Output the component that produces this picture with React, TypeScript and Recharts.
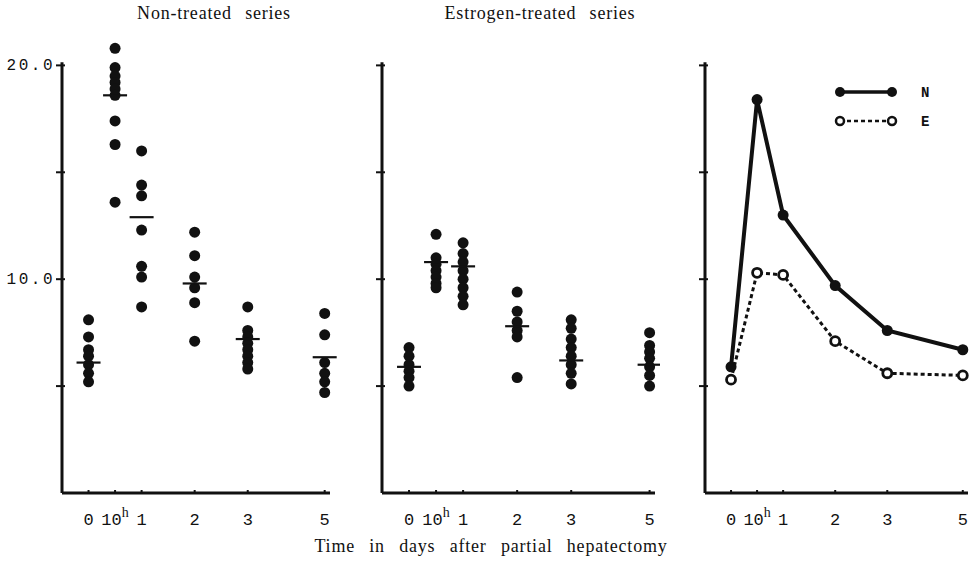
import { ScatterChart, Scatter, XAxis, YAxis, ReferenceLine } from "recharts";

const categories = ["0", "10h", "1", "2", "3", "5"];
// horizontal placement of each time point (days, the 5-day point is drawn compressed)
const dayPositions = [0, 0.5, 1, 2, 3, 4.45];
const yTicks = [5, 10, 15, 20];
const yTickLabels = ["", "10.0", "", "20.0"];

const nonTreatedValues = [
  [8.1, 7.3, 6.7, 6.4, 6.0, 5.6, 5.2],
  [20.8, 19.9, 19.5, 19.2, 18.9, 18.6, 17.4, 16.3, 13.6],
  [16.0, 14.4, 13.9, 12.3, 10.6, 10.1, 8.7],
  [12.2, 11.1, 10.1, 9.6, 8.9, 7.1],
  [8.7, 7.6, 7.3, 7.0, 6.7, 6.4, 6.1, 5.8],
  [8.4, 7.4, 6.1, 5.6, 5.2, 4.7],
];
const nonTreatedMeans = [6.1, 18.6, 12.9, 9.8, 7.2, 6.35];

const estrogenValues = [
  [6.8, 6.4, 6.0, 5.7, 5.4, 5.0],
  [12.1, 11.0, 10.7, 10.4, 10.1, 9.8, 9.6],
  [11.7, 11.2, 10.8, 10.4, 10.0, 9.6, 9.2, 8.8],
  [9.4, 8.5, 8.0, 7.6, 7.3, 5.4],
  [8.1, 7.7, 7.2, 6.8, 6.4, 6.0, 5.6, 5.1],
  [7.5, 6.9, 6.6, 6.3, 5.9, 5.5, 5.0],
];
const estrogenMeans = [5.9, 10.8, 10.6, 7.8, 6.2, 6.0];

const nLine = [5.9, 18.4, 13.0, 9.7, 7.6, 6.7];
const eLine = [5.3, 10.3, 10.2, 7.1, 5.6, 5.5];

const INK = "#111";
const X_DOMAIN: [number, number] = [-0.5, 4.55];
const Y_DOMAIN: [number, number] = [0, 21];
const CHART_H = 540;
const XAXIS_H = 47;

function groupPoints(groups: number[][]) {
  return groups.flatMap((vals, i) => vals.map((v) => ({ x: dayPositions[i], y: v })));
}
function seriesPoints(vals: number[]) {
  return vals.map((v, i) => ({ x: dayPositions[i], y: v }));
}

const filledDot = (p: any) => <circle cx={p.cx} cy={p.cy} r={5.5} fill={INK} />;
const openDot = (p: any) => (
  <circle cx={p.cx} cy={p.cy} r={4.5} fill="#fff" stroke={INK} strokeWidth={2.8} />
);
const meanBar = (p: any) => (
  <line x1={p.cx - 12} x2={p.cx + 12} y1={p.cy} y2={p.cy} stroke={INK} strokeWidth={2.2} />
);

function XTick(props: any) {
  const { x, y, payload } = props;
  const i = dayPositions.indexOf(payload.value);
  const label = categories[i];
  const font = { fontFamily: "'Liberation Mono', monospace", fontSize: 17, fill: INK };
  return (
    <g>
      <line x1={x} x2={x} y1={y - 3} y2={y + 1} stroke={INK} strokeWidth={2} />
      {label === "10h" ? (
        <text x={x} y={y + 32} textAnchor="middle" {...font}>
          10<tspan dy={-8} fontSize={14} fontFamily="'Liberation Serif', serif">h</tspan>
        </text>
      ) : (
        <text x={x} y={y + 32} textAnchor="middle" {...font}>
          {label}
        </text>
      )}
    </g>
  );
}

function makeYTick(showLabels: boolean) {
  return function YTick(props: any) {
    const { x, y, payload } = props;
    const i = yTicks.indexOf(payload.value);
    const label = showLabels ? yTickLabels[i] : "";
    return (
      <g>
        <line x1={x - 6} x2={x + 3} y1={y} y2={y} stroke={INK} strokeWidth={2} />
        {label && (
          <text
            x={x - 7}
            y={y + 5}
            textAnchor="end"
            fontFamily="'Liberation Mono', monospace"
            fontSize={16}
            letterSpacing={2.5}
            fill={INK}
          >
            {label}
          </text>
        )}
      </g>
    );
  };
}

interface PanelProps {
  left: number;
  plotLeft: number;
  plotRight: number;
  width: number;
  showLabels?: boolean;
  children: any;
}

function Panel({ left, plotLeft, plotRight, width, showLabels = false, children }: PanelProps) {
  return (
    <div style={{ position: "absolute", left, top: 0 }}>
      <ScatterChart
        width={width}
        height={CHART_H}
        margin={{ top: 44, right: left + width - plotRight, bottom: 0, left: 0 }}
      >
        <XAxis
          type="number"
          dataKey="x"
          domain={X_DOMAIN}
          ticks={dayPositions}
          interval={0}
          height={XAXIS_H}
          tickSize={0}
          tickMargin={0}
          tickLine={false}
          axisLine={{ stroke: INK, strokeWidth: 3 }}
          tick={<XTick />}
        />
        <YAxis
          type="number"
          dataKey="y"
          domain={Y_DOMAIN}
          ticks={yTicks}
          width={plotLeft - left}
          tickSize={0}
          tickMargin={0}
          tickLine={false}
          axisLine={false}
          tick={makeYTick(showLabels)}
        />
        <ReferenceLine
          segment={[
            { x: X_DOMAIN[0], y: 0 },
            { x: X_DOMAIN[0], y: 20.15 },
          ]}
          stroke={INK}
          strokeWidth={3}
        />
        {children}
      </ScatterChart>
    </div>
  );
}

function LegendBox() {
  const font = { fontFamily: "'Liberation Mono', monospace", fontWeight: "bold" as const, fontSize: 14, fill: INK };
  return (
    <svg width={110} height={52} style={{ position: "absolute", left: 833, top: 80 }}>
      <line x1={7} x2={59} y1={12} y2={12} stroke={INK} strokeWidth={3.5} />
      <circle cx={7} cy={12} r={5} fill={INK} />
      <circle cx={59} cy={12} r={5} fill={INK} />
      <text x={88} y={17} {...font}>N</text>
      <line x1={7} x2={59} y1={41} y2={41} stroke={INK} strokeWidth={2.5} strokeDasharray="4 3" />
      <circle cx={7} cy={41} r={4} fill="#fff" stroke={INK} strokeWidth={2.5} />
      <circle cx={59} cy={41} r={4} fill="#fff" stroke={INK} strokeWidth={2.5} />
      <text x={88} y={46} {...font}>E</text>
    </svg>
  );
}

const serifText = {
  fontFamily: "'Liberation Serif', serif",
  color: INK,
  position: "absolute" as const,
  fontSize: 18,
  letterSpacing: 0.8,
  textAlign: "center" as const,
  whiteSpace: "nowrap" as const,
};

export default function App() {
  return (
    <div style={{ position: "absolute", left: 0, top: 0, width: 977, height: 562, background: "#fff", overflow: "hidden" }}>
      <div style={{ ...serifText, left: 94, top: 3, width: 240, wordSpacing: 8 }}>Non-treated series</div>
      <div style={{ ...serifText, left: 400, top: 3, width: 280, wordSpacing: 8 }}>Estrogen-treated series</div>

      <Panel left={0} plotLeft={62} plotRight={330} width={340} showLabels>
        <Scatter data={groupPoints(nonTreatedValues)} shape={filledDot} isAnimationActive={false} />
        <Scatter data={seriesPoints(nonTreatedMeans)} shape={meanBar} isAnimationActive={false} />
      </Panel>

      <Panel left={340} plotLeft={382} plotRight={655} width={320}>
        <Scatter data={groupPoints(estrogenValues)} shape={filledDot} isAnimationActive={false} />
        <Scatter data={seriesPoints(estrogenMeans)} shape={meanBar} isAnimationActive={false} />
      </Panel>

      <Panel left={665} plotLeft={705} plotRight={968} width={312}>
        <Scatter
          name="N"
          data={seriesPoints(nLine)}
          line={{ stroke: INK, strokeWidth: 4 }}
          shape={filledDot}
          isAnimationActive={false}
        />
        <Scatter
          name="E"
          data={seriesPoints(eLine)}
          line={{ stroke: INK, strokeWidth: 3, strokeDasharray: "4 3" }}
          shape={openDot}
          isAnimationActive={false}
        />
      </Panel>
      <LegendBox />

      <div style={{ ...serifText, left: 241, top: 536, width: 500, wordSpacing: 9 }}>
        Time in days after partial hepatectomy
      </div>
    </div>
  );
}
